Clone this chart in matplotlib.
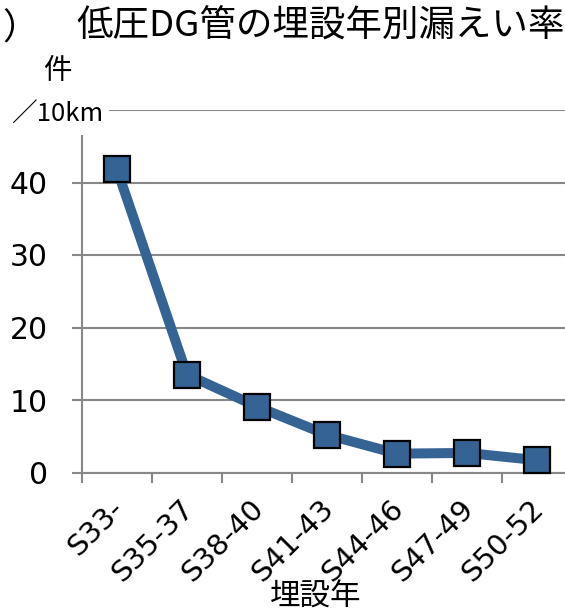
import matplotlib
matplotlib.use("Agg")
import matplotlib.pyplot as plt
from matplotlib.patches import Rectangle
from matplotlib.transforms import ScaledTranslation

plt.rcParams['font.family'] = ['DejaVu Sans', 'Noto Sans CJK JP']

# 埋設年別の漏えい率（件/10km）
years = ['S33-', 'S35-37', 'S38-40', 'S41-43', 'S44-46', 'S47-49', 'S50-52']
rate = [41.8, 13.5, 9.1, 5.2, 2.6, 2.7, 1.7]
yticks = [0, 10, 20, 30, 40, 50]
ytick_labels = ['0', '10', '20', '30', '40', '']

W, H = 565, 610
fig = plt.figure(figsize=(W / 100, H / 100), dpi=100)
ax = fig.add_axes([82 / W, 1 - 472.5 / H, 490 / W, 362.5 / H])

gray = '#888888'
blue = '#356394'

x = list(range(len(years)))
ax.plot(x, rate, color=blue, lw=7.2, marker='s', ms=19,
        mfc=blue, mec='black', mew=1.6, zorder=3, clip_on=False)

ax.set_xlim(-0.5, len(years) - 0.5)
ax.set_ylim(0, 50)
ax.set_yticks(yticks)
ax.set_yticklabels(ytick_labels)
ax.yaxis.grid(True, color=gray, lw=1.5)
ax.set_axisbelow(True)

# 目盛りは区間の境目、ラベルは区間の中央
ax.set_xticks([i - 0.5 for i in range(len(years) + 1)])
ax.set_xticklabels([])
ax.set_xticks(x, minor=True)
ax.set_xticklabels(years, minor=True, rotation=45, ha='right', va='top',
                   rotation_mode='anchor', fontsize=21)
ax.tick_params(axis='x', which='minor', length=0, pad=16)
ax.tick_params(axis='x', which='major', length=7.5, width=1.5, color=gray)
ax.tick_params(axis='y', length=7.5, width=1.5, color=gray, labelsize=21.5, pad=17)

# ラベルを少し左へずらす
shift = ScaledTranslation(-8 / 100, 0, fig.dpi_scale_trans)
for lbl in ax.get_xticklabels(minor=True):
    lbl.set_transform(lbl.get_transform() + shift)

for s in ['top', 'right']:
    ax.spines[s].set_visible(False)
for s in ['left', 'bottom']:
    ax.spines[s].set_color(gray)
    ax.spines[s].set_linewidth(1.5)

# 単位ラベルの背景
fig.add_artist(Rectangle((0, 1 - 135 / H), 109 / W, 85 / H,
                         transform=fig.transFigure, fc='white', ec='none', zorder=1))

fig.text(2 / W, 1 - 30 / H, '）', fontsize=26, family=['Noto Sans CJK JP'],
         ha='left', va='center', zorder=2)
fig.text(76 / W, 1 - 26 / H, '低圧DG管の埋設年別漏えい率', fontsize=26.3,
         family=['Noto Sans CJK JP'], ha='left', va='center', zorder=2)
fig.text(57 / W, 1 - 71 / H, '件', fontsize=20.5, family=['Noto Sans CJK JP'],
         ha='center', va='center', zorder=2)
fig.text(57 / W, 1 - 114 / H, '／10km', fontsize=18.5, family=['Noto Sans CJK JP'],
         ha='center', va='center', zorder=2)
fig.text(316 / W, 1 - 597 / H, '埋設年', fontsize=22, family=['Noto Sans CJK JP'],
         ha='center', va='center', zorder=2)

fig.savefig('out.png', dpi=100)
